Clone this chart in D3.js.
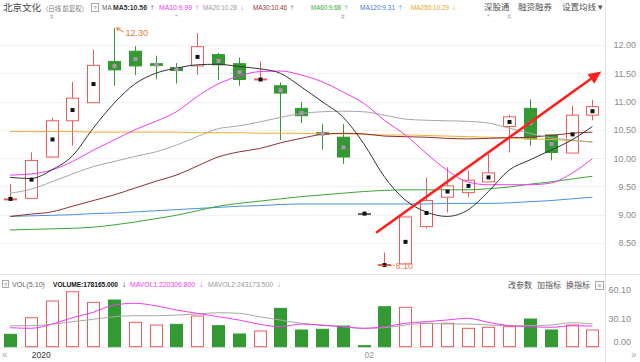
<!DOCTYPE html>
<html>
<head>
<meta charset="utf-8">
<script src="https://cdn.jsdelivr.net/npm/d3@7"></script>
<style>
body { margin: 0; background: #fff; }
svg { display: block; font-family: "Liberation Sans", Arial, sans-serif; }
</style>
</head>
<body>
<svg id="chart" width="640" height="362"></svg>
<script>
// 北京文化 daily candles
var open  = [9.27, 9.29, 10.02, 10.66, 10.98, 11.71, 11.89, 11.67, 11.60, 11.63, 11.83, 11.67, 11.39, 11.28, 10.88, 10.45, 10.37, 9.02, 8.11, 8.13, 8.79, 9.31, 9.39, 9.58, 10.56, 10.88, 10.41, 10.09, 10.76];
var close = [9.28, 9.96, 10.66, 11.06, 11.64, 11.56, 11.63, 11.64, 11.55, 11.97, 11.65, 11.39, 11.40, 11.15, 10.75, 10.42, 10.02, 9.02, 8.12, 8.96, 9.25, 9.51, 9.61, 9.74, 10.73, 10.34, 10.10, 10.76, 10.91];
var high  = [9.54, 10.10, 10.71, 11.35, 11.92, 12.30, 11.98, 11.81, 11.68, 12.21, 11.86, 11.78, 11.71, 11.34, 10.99, 10.60, 10.60, 9.02, 8.33, 8.96, 9.66, 9.84, 9.78, 10.07, 10.77, 11.04, 10.42, 10.93, 11.03];
var low   = [9.25, 9.29, 10.01, 10.22, 10.98, 11.28, 11.47, 11.39, 11.32, 11.47, 11.38, 11.28, 11.37, 10.32, 10.62, 10.15, 9.90, 9.02, 8.10, 8.13, 8.76, 9.04, 9.31, 9.58, 10.10, 10.22, 9.96, 10.09, 10.67];
var avgPrice = [9.28, 9.62, 10.33, 10.85, 11.31, 11.63, 11.75, 11.65, 11.57, 11.79, 11.72, 11.52, 11.39, 11.20, 10.80, 10.43, 10.19, 9.02, 8.11, 8.52, 9.03, 9.41, 9.51, 9.66, 10.64, 10.62, 10.25, 10.42, 10.83];
var prevClose = 9.30;

var ma5   = [9.66, 9.64, 9.79, 10.04, 10.53, 10.97, 11.31, 11.50, 11.59, 11.65, 11.66, 11.62, 11.58, 11.50, 11.26, 11.00, 10.73, 10.26, 9.67, 9.26, 9.05, 8.97, 9.08, 9.41, 9.79, 9.97, 10.14, 10.32, 10.56];
var ma10  = [9.70, 9.72, 9.79, 9.94, 10.14, 10.32, 10.50, 10.65, 10.82, 11.09, 11.31, 11.45, 11.53, 11.54, 11.47, 11.35, 11.17, 10.97, 10.67, 10.41, 10.09, 9.79, 9.58, 9.53, 9.53, 9.53, 9.56, 9.73, 9.99];
var ma20  = [9.38, 9.45, 9.58, 9.72, 9.85, 9.94, 10.03, 10.11, 10.23, 10.38, 10.52, 10.57, 10.64, 10.72, 10.79, 10.82, 10.83, 10.82, 10.76, 10.69, 10.67, 10.66, 10.65, 10.62, 10.53, 10.44, 10.36, 10.32, 10.28];
var ma30  = [8.97, 9.01, 9.05, 9.15, 9.25, 9.35, 9.47, 9.59, 9.70, 9.86, 10.02, 10.11, 10.17, 10.27, 10.35, 10.42, 10.44, 10.43, 10.39, 10.38, 10.37, 10.35, 10.34, 10.35, 10.36, 10.37, 10.40, 10.44, 10.46];
var ma60  = [8.73, 8.74, 8.75, 8.76, 8.78, 8.82, 8.87, 8.93, 8.99, 9.07, 9.15, 9.20, 9.24, 9.28, 9.32, 9.35, 9.38, 9.41, 9.43, 9.44, 9.44, 9.44, 9.44, 9.46, 9.49, 9.54, 9.58, 9.63, 9.68];
var ma120 = [8.97, 8.98, 8.99, 9.00, 9.02, 9.03, 9.05, 9.07, 9.09, 9.11, 9.13, 9.15, 9.16, 9.18, 9.19, 9.19, 9.19, 9.19, 9.19, 9.19, 9.19, 9.20, 9.20, 9.20, 9.21, 9.23, 9.25, 9.28, 9.31];
var ma250 = [10.47, 10.47, 10.47, 10.47, 10.46, 10.46, 10.46, 10.46, 10.46, 10.45, 10.45, 10.45, 10.44, 10.44, 10.44, 10.43, 10.43, 10.42, 10.41, 10.41, 10.40, 10.39, 10.38, 10.37, 10.36, 10.34, 10.33, 10.31, 10.29];

var maNames = ["MA5", "MA10", "MA20", "MA30", "MA60", "MA120", "MA250"];
var maLast  = ["10.56", "9.99", "10.28", "10.46", "9.68", "9.31", "10.29"];
var maDir   = ["↑", "↑", "↓", "↑", "↑", "↑", "↓"];

var volume = [132300, 309400, 487600, 586900, 473700, 498300, 260300, 231500, 239000, 327600, 224100, 135500, 167500, 409700, 178200, 185700, 220900, 10700, 426800, 420400, 249700, 249700, 196300, 207000, 213400, 295600, 178200, 231500, 178165];
var mavol1 = [202700, 196300, 239000, 309400, 367000, 444900, 463100, 437500, 391600, 356400, 320100, 284900, 239000, 213400, 242200, 228300, 213400, 196300, 213400, 249700, 266800, 284900, 303000, 260300, 224100, 213400, 207000, 224100, 220307];
var mavol2 = [224100, 224100, 239000, 266800, 292400, 320100, 330800, 330800, 338200, 348900, 362800, 356400, 320100, 284900, 249700, 231500, 213400, 196300, 202700, 231500, 249700, 242200, 242200, 231500, 224100, 224100, 231500, 256100, 243174];

var priceTicks = [8.5, 9, 9.5, 10, 10.5, 11, 11.5, 12];
var volTicks = [601000, 301000, 0];
var dateTickIdx = [1, 17];
var dateTickText = ["2020", "02"];
var eventIdx = [2, 8, 16, 23, 24];
var eventGlyph = ["ǂ", "*", "ǂ", "*", "ǂ"];
// hand drawn trend arrow, in (day index, price)
var arrowFrom = [17.6, 8.68];
var arrowTo = [28.0, 11.42];

var RED = "#ec5b5b", GREEN = "#339a33";
var maColors = ["#333333", "#f03cf0", "#a8a8a8", "#8e2f2f", "#3aa63a", "#4a90d9", "#f0b030"];
var legendColors = ["#333333", "#f03cf0", "#999999", "#a03030", "#3aa63a", "#3a80d0", "#f0a020"];

var svg = d3.select("#chart");

var x = d3.scaleLinear().domain([0, 28]).range([10, 592.4]);
var yP = d3.scaleLinear().domain([8.5, 12]).range([243, 45]);
var yV = d3.scaleLinear().domain([0, 601000]).range([346.7, 290.4]);
var idx = d3.range(close.length);

// frame
svg.selectAll(".grid").data(priceTicks).enter().append("line")
    .attr("x1", 0).attr("x2", 605)
    .attr("y1", function(d) { return Math.round(yP(d)) + 0.5; })
    .attr("y2", function(d) { return Math.round(yP(d)) + 0.5; })
    .attr("stroke", "#f3f3f3");
svg.append("line").attr("x1", 605.5).attr("x2", 605.5).attr("y1", 0).attr("y2", 362).attr("stroke", "#e3e3e3");
svg.append("line").attr("x1", 0).attr("x2", 640).attr("y1", 274.5).attr("y2", 274.5).attr("stroke", "#e3e3e3");
svg.append("line").attr("x1", 0).attr("x2", 605).attr("y1", 347.5).attr("y2", 347.5).attr("stroke", "#ececec");

// price axis
var pAxis = svg.append("g").attr("transform", "translate(636,0)")
    .call(d3.axisLeft(yP).tickValues(priceTicks).tickFormat(d3.format(".2f")).tickSize(0).tickPadding(0));
pAxis.select(".domain").remove();
pAxis.selectAll("text").attr("fill", "#8a8a8a").style("font-size", "9px")
    .style("font-family", "'Liberation Sans', Arial, sans-serif");

// candles
var bw = 13;
var candle = svg.append("g").selectAll("g").data(idx).enter().append("g");
function cColor(i) {
  if (close[i] > open[i]) return RED;
  if (close[i] < open[i]) return GREEN;
  return "#666";
}
candle.append("line")
    .attr("x1", function(i) { return Math.round(x(i)) + 0.5; })
    .attr("x2", function(i) { return Math.round(x(i)) + 0.5; })
    .attr("y1", function(i) { return yP(high[i]); })
    .attr("y2", function(i) { return yP(low[i]); })
    .attr("stroke", cColor);
candle.append("rect")
    .attr("x", function(i) { return Math.round(x(i)) - 6 + 0.5; })
    .attr("y", function(i) { return yP(Math.max(open[i], close[i])); })
    .attr("width", bw - 1)
    .attr("height", function(i) { return Math.max(1, Math.abs(yP(open[i]) - yP(close[i]))); })
    .attr("fill", function(i) { return close[i] > open[i] ? "#fff" : cColor(i); })
    .attr("stroke", cColor);

// moving averages
var maSeries = [ma5, ma10, ma20, ma30, ma60, ma120, ma250];
var line = d3.line().x(function(d, i) { return x(i); }).y(function(d) { return yP(d); }).curve(d3.curveMonotoneX);
svg.append("g").selectAll("path").data(maSeries.slice().reverse()).enter().append("path")
    .attr("d", line)
    .attr("fill", "none")
    .attr("stroke", function(d, k) { return maColors[maColors.length - 1 - k]; })
    .attr("stroke-width", 1);

// average-price markers
svg.append("g").selectAll("rect").data(idx).enter().append("rect")
    .attr("x", function(i) { return Math.round(x(i)) - 1.5; })
    .attr("y", function(i) { return yP(avgPrice[i]) - 2; })
    .attr("width", 4).attr("height", 4)
    .attr("fill", function(i) { return close[i] < open[i] ? "#b690b6" : "#111"; });

// high / low labels
var hi = d3.maxIndex(high), lo = d3.minIndex(low);
var hx = Math.round(x(hi)) + 0.5, hy = yP(high[hi]);
svg.append("path").attr("d", "M" + (hx + 2) + "," + hy + "L" + (hx + 9) + "," + (hy + 4))
    .attr("stroke", "#e0803a").attr("fill", "none");
svg.append("path").attr("d", "M" + (hx + 2) + "," + hy + "l4,0 M" + (hx + 2) + "," + hy + "l1.5,3")
    .attr("stroke", "#e0803a").attr("fill", "none");
svg.append("text").attr("x", hx + 11).attr("y", hy + 7.5).text(d3.format(".2f")(high[hi]))
    .attr("fill", "#e0803a").style("font-size", "9px");
var lx = Math.round(x(lo)) + 0.5, ly = yP(low[lo]);
svg.append("line").attr("x1", lx - 7).attr("x2", lx + 10).attr("y1", ly).attr("y2", ly)
    .attr("stroke", "#f07a5a").attr("stroke-dasharray", "3,1");
svg.append("text").attr("x", lx + 11).attr("y", ly + 3).text(d3.format(".2f")(low[lo]))
    .attr("fill", "#f07a5a").style("font-size", "9px");

// trend arrow
svg.append("defs").append("marker")
    .attr("id", "head").attr("markerUnits", "userSpaceOnUse")
    .attr("markerWidth", 14).attr("markerHeight", 12)
    .attr("refX", 2).attr("refY", 6).attr("orient", "auto")
    .append("path").attr("d", "M0,0L13,6L0,12Z").attr("fill", "#ff2020");
svg.append("line")
    .attr("x1", x(arrowFrom[0])).attr("y1", yP(arrowFrom[1]))
    .attr("x2", x(arrowTo[0])).attr("y2", yP(arrowTo[1]))
    .attr("stroke", "#ff2020").attr("stroke-width", 2.6)
    .attr("marker-end", "url(#head)");

// event markers under legend
svg.append("g").selectAll("text").data(eventIdx).enter().append("text")
    .attr("x", function(d) { return x(d); }).attr("y", 19)
    .attr("text-anchor", "middle").attr("fill", "#b0b0b0").style("font-size", "8px")
    .text(function(d, k) { return eventGlyph[k]; });

// top legend
svg.append("text").attr("x", 3).attr("y", 11).attr("fill", "#444")
    .attr("textLength", 38).attr("lengthAdjust", "spacingAndGlyphs")
    .style("font-family", "'Noto Sans CJK SC', sans-serif").style("font-size", "9.5px")
    .text("北京文化");
svg.append("text").attr("x", 42).attr("y", 11).attr("fill", "#777")
    .attr("textLength", 46).attr("lengthAdjust", "spacingAndGlyphs")
    .style("font-family", "'Noto Sans CJK SC', sans-serif").style("font-size", "6.5px")
    .text("（日线 前复权）");
svg.append("rect").attr("x", 91.5).attr("y", 3.5).attr("width", 7).attr("height", 8).attr("fill", "none").attr("stroke", "#aaa");
svg.append("text").attr("x", 95).attr("y", 10).attr("text-anchor", "middle").attr("fill", "#888").style("font-size", "6px").text("?");
svg.append("text").attr("x", 102).attr("y", 10).attr("fill", "#666").style("font-size", "6.5px").text("MA");
var legX = [113, 159, 203, 253, 311, 360, 411];
var legW = [34, 33, 34, 34, 30, 35, 38];
maNames.forEach(function(n, k) {
  svg.append("text").attr("x", legX[k]).attr("y", 10).attr("fill", legendColors[k])
      .attr("textLength", legW[k]).attr("lengthAdjust", "spacingAndGlyphs")
      .style("font-size", "7px").style("font-weight", k === 0 ? "bold" : "normal")
      .text(n + ":" + maLast[k]);
  svg.append("text").attr("x", legX[k] + legW[k] + 3).attr("y", 10).attr("fill", legendColors[k])
      .style("font-size", "8px").text(maDir[k]);
});
var menu = ["深股通", "融资融券", "设置均线 ▾"];
var menuX = [484, 518, 562];
menu.forEach(function(m, k) {
  svg.append("text").attr("x", menuX[k]).attr("y", 10).attr("fill", "#555")
      .style("font-family", "'Noto Sans CJK SC', sans-serif").style("font-size", "8.5px").text(m);
});

// volume bars
var vol = svg.append("g").selectAll("rect").data(idx).enter().append("rect");
function vUp(i) { return close[i] >= (i > 0 ? close[i - 1] : prevClose); }
vol.attr("x", function(i) { return Math.round(x(i)) - 6 + 0.5; })
    .attr("y", function(i) { return yV(volume[i]); })
    .attr("width", bw - 1)
    .attr("height", function(i) { return Math.max(0.5, yV(0) - yV(volume[i])); })
    .attr("fill", function(i) { return vUp(i) ? "#fff" : GREEN; })
    .attr("stroke", function(i) { return vUp(i) ? RED : GREEN; });

var vline = d3.line().x(function(d, i) { return x(i); }).y(function(d) { return yV(d); }).curve(d3.curveMonotoneX);
svg.append("path").attr("d", vline(mavol2)).attr("fill", "none").attr("stroke", "#a8a8a8");
svg.append("path").attr("d", vline(mavol1)).attr("fill", "none").attr("stroke", "#f03cf0");

// volume axis
svg.append("g").selectAll("text").data(volTicks).enter().append("text")
    .attr("x", 631).attr("y", function(d) { return (d === 0 ? yV(d) - 5 : yV(d)) + 3; })
    .attr("text-anchor", "end").attr("fill", "#8a8a8a").style("font-size", "9px")
    .text(function(d) { return d3.format(".2f")(d / 10000); });

// volume legend
svg.append("rect").attr("x", 2.5).attr("y", 280.5).attr("width", 6).attr("height", 7).attr("fill", "none").attr("stroke", "#aaa");
svg.append("text").attr("x", 5.5).attr("y", 286.5).attr("text-anchor", "middle").attr("fill", "#888").style("font-size", "6px").text("?");
var vLeg = [
  { t: "VOL(5,10)", c: "#666", x: 12, w: 33, b: false, a: "" },
  { t: "VOLUME:" + d3.format(".3f")(volume[volume.length - 1]), c: "#111", x: 53, w: 65, b: true, a: "↓" },
  { t: "MAVOL1:220306.800", c: "#f03cf0", x: 130, w: 65, b: false, a: "↓" },
  { t: "MAVOL2:" + d3.format(".3f")(243173.5), c: "#999", x: 208, w: 65, b: false, a: "↓" }
];
vLeg.forEach(function(l) {
  svg.append("text").attr("x", l.x).attr("y", 287).attr("fill", l.c)
      .attr("textLength", l.w).attr("lengthAdjust", "spacingAndGlyphs")
      .style("font-size", "6.8px").style("font-weight", l.b ? "bold" : "normal").text(l.t);
  if (l.a) {
    svg.append("text").attr("x", l.x + l.w + 4).attr("y", 287).attr("fill", l.c).style("font-size", "8px").text(l.a);
  }
});
var tools = ["改参数", "加指标", "换指标"];
var toolX = [508, 537, 566];
tools.forEach(function(m, k) {
  svg.append("text").attr("x", toolX[k]).attr("y", 288).attr("fill", "#555")
      .style("font-family", "'Noto Sans CJK SC', sans-serif").style("font-size", "8px").text(m);
});
svg.append("rect").attr("x", 595.5).attr("y", 281.5).attr("width", 8).attr("height", 8).attr("fill", "none").attr("stroke", "#aaa");
svg.append("text").attr("x", 599.5).attr("y", 288).attr("text-anchor", "middle").attr("fill", "#888").style("font-size", "7px").text("×");

// date axis
svg.append("g").selectAll("text").data(dateTickIdx).enter().append("text")
    .attr("x", function(d) { return x(d) + 1; }).attr("y", 358)
    .attr("fill", function(d, k) { return k === 0 ? "#333" : "#999"; })
    .style("font-size", "8.5px")
    .text(function(d, k) { return dateTickText[k]; });
svg.append("text").attr("x", 2).attr("y", 358).attr("fill", "#aaa").style("font-size", "10px").text("«");
svg.append("text").attr("x", 631).attr("y", 358).attr("fill", "#aaa").style("font-size", "10px").text("»");
</script>
</body>
</html>
